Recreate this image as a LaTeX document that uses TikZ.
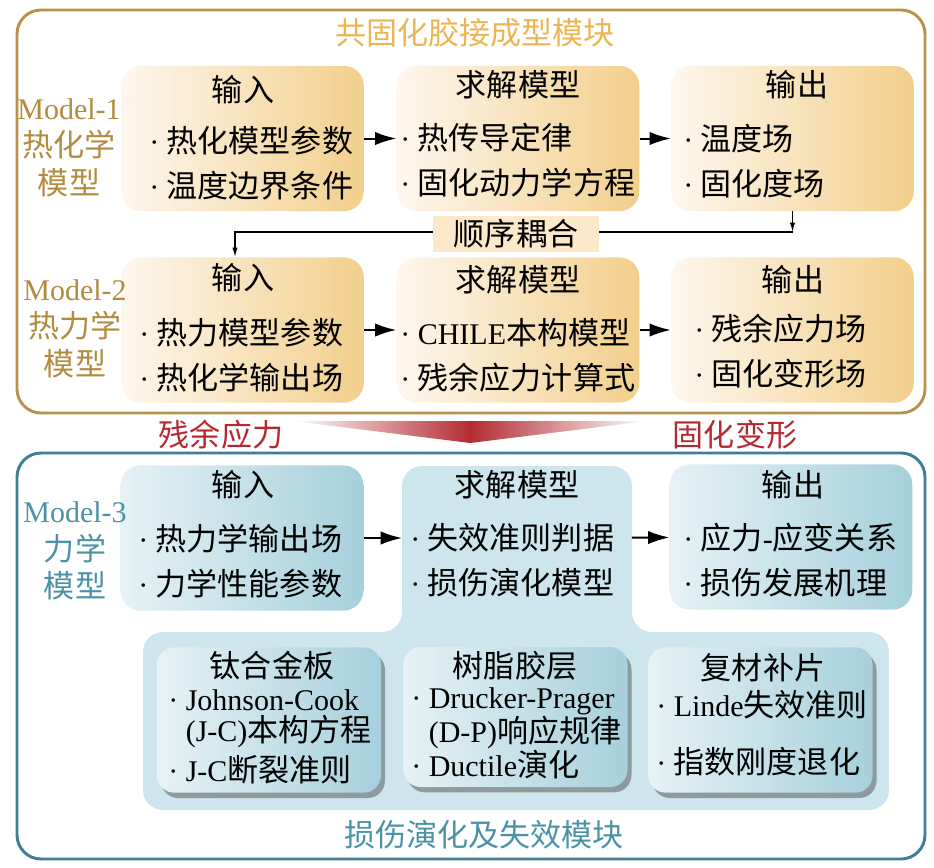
\documentclass[tikz,border=0pt]{standalone}
\usepackage{fontspec}
\setmainfont{Liberation Serif}
\newfontfamily\cjk[Scale=1.035]{Noto Sans CJK SC}
\usepackage{xcolor}
\usepackage{tikz}
\usetikzlibrary{arrows.meta}
\usetikzlibrary{shadows}

\definecolor{goldline}{HTML}{B8924C}
\definecolor{goldtitle}{HTML}{ECB551}
\definecolor{goldtext}{HTML}{B38B3E}
\definecolor{goldlight}{HTML}{FEF7EE}
\definecolor{golddark}{HTML}{F2CF8C}
\definecolor{couplefill}{HTML}{FBE9CA}
\definecolor{blueline}{HTML}{3E7F92}
\definecolor{bluetext}{HTML}{4C92A7}
\definecolor{bluelight}{HTML}{E6F2F6}
\definecolor{bluedark}{HTML}{A6D0DC}
\definecolor{bluepanel}{HTML}{CDE5EC}
\definecolor{redtext}{HTML}{B5282F}
\definecolor{redtri}{HTML}{B42C33}

\newcommand{\zh}[1]{{\cjk #1}}

\begin{document}
\begin{tikzpicture}[x=0.75pt,y=-0.75pt,
  txt/.style={font=\fontsize{22.5}{33.75}\selectfont, inner sep=0pt},
  itemtxt/.style={txt, align=left, anchor=west},
  modeltxt/.style={font=\fontsize{22.5}{28}\selectfont, align=center, inner sep=0pt},
  goldbox/.style={rounded corners=15pt, minimum width=182pt, minimum height=109pt, inner sep=0pt,
    left color=goldlight, right color=golddark},
  bluebox/.style={rounded corners=15pt, minimum width=182pt, minimum height=109pt, inner sep=0pt,
    left color=bluelight, right color=bluedark},
  subbox/.style={rounded corners=13pt, minimum width=168pt, minimum height=109pt, inner sep=0pt,
    left color=bluelight, right color=bluedark,
    drop shadow={shadow xshift=3pt, shadow yshift=-4pt, opacity=0.45, fill=black!75}},
  flow/.style={line width=1.5pt, -{Latex[length=16pt,width=10pt]}},
  couple/.style={line width=1.1pt, -{Latex[length=7pt,width=4pt]}}]
\useasboundingbox (0,0) rectangle (934,867);

% top module
\draw[goldline, line width=2.2pt, rounded corners=18pt] (17,10) rectangle (925,413);
\node[txt, text=goldtitle] (title1) at (475,33) {\zh{共固化胶接成型模块}};

\node[goldbox] (in1) at (242.5,138.5) {};
\node[goldbox] (so1) at (518,138.5) {};
\node[goldbox] (out1) at (792.5,138.5) {};
\node[txt] (in1h) at (243,90) {\zh{输入}};
\node[txt] (so1h) at (518,85) {\zh{求解模型}};
\node[txt] (out1h) at (797,85) {\zh{输出}};
\node[itemtxt] (in1t) at (149,163.5) {· \zh{热化模型参数}\\· \zh{温度边界条件}};
\node[itemtxt] (so1t) at (400,160) {· \zh{热传导定律}\\· \zh{固化动力学方程}};
\node[itemtxt] (out1t) at (683,161.5) {· \zh{温度场}\\· \zh{固化度场}};

\node[goldbox] (in2) at (242.5,330) {};
\node[goldbox] (so2) at (518,330) {};
\node[goldbox] (out2) at (792.5,330) {};
\node[txt] (in2h) at (243,278) {\zh{输入}};
\node[txt] (so2h) at (518,280) {\zh{求解模型}};
\node[txt] (out2h) at (793,280) {\zh{输出}};
\node[itemtxt] (in2t) at (139,355) {· \zh{热力模型参数}\\· \zh{热化学输出场}};
\node[itemtxt] (so2t) at (400,355) {· CHILE\zh{本构模型}\\· \zh{残余应力计算式}};
\node[itemtxt] (out2t) at (694,351.5) {· \zh{残余应力场}\\· \zh{固化变形场}};

\node[modeltxt, text=goldtext] (m1) at (69,147.5) {Model-1\\\zh{热化学}\\\zh{模型}};
\node[modeltxt, text=goldtext] (m2) at (75,328.5) {Model-2\\\zh{热力学}\\\zh{模型}};

\draw[flow] (in1) -- (so1);
\draw[flow] (so1) -- (out1);
\draw[flow] (in2) -- (so2);
\draw[flow] (so2) -- (out2);

% sequential coupling
\coordinate (turn) at (235,232);
\draw[couple] (out1.south) -- (out1.south |- turn);
\draw[couple] (out1.south |- turn) -- (turn) -- (turn |- in2.north);
\node[txt, fill=couplefill, minimum width=124pt, minimum height=27pt] (cpl) at (516,234) {\zh{顺序耦合}};

% transfer between modules
\shade[left color=white, right color=white, middle color=redtri] (293,421) -- (648,421) -- (470,443) -- cycle;
\node[txt, text=redtext] (rs) at (221,435) {\zh{残余应力}};
\node[txt, text=redtext] (cd) at (735,435) {\zh{固化变形}};

% bottom module
\draw[blueline, line width=2.2pt, rounded corners=18pt] (17,453) rectangle (925,859);
\fill[bluepanel, rounded corners=15pt] (143,810) -- (143,632) -- (402,632) -- (402,466)
  -- (632,466) -- (632,632) -- (889,632) -- (889,810) -- cycle;
\node[txt, text=bluetext] (title2) at (484,835) {\zh{损伤演化及失效模块}};

\node[bluebox] (in3) at (242,538) {};
\node[minimum width=172pt, minimum height=109pt, inner sep=0pt] (so3) at (517,538) {};
\node[bluebox] (out3) at (791,537) {};
\node[txt] (in3h) at (243,485) {\zh{输入}};
\node[txt] (so3h) at (517,485) {\zh{求解模型}};
\node[txt] (out3h) at (793,485) {\zh{输出}};
\node[itemtxt] (in3t) at (138,561) {· \zh{热力学输出场}\\· \zh{力学性能参数}};
\node[itemtxt] (so3t) at (410,560) {· \zh{失效准则判据}\\· \zh{损伤演化模型}};
\node[itemtxt] (out3t) at (683,560) {· \zh{应力}-\zh{应变关系}\\· \zh{损伤发展机理}};
\node[modeltxt, text=bluetext] (m3) at (75,551) {Model-3\\\zh{力学}\\\zh{模型}};

\draw[flow] (in3) -- (so3);
\draw[flow] (so3) -- (out3);

\node[subbox] (ti) at (269,720) {};
\node[subbox, minimum height=105pt] (resin) at (515.5,717) {};
\node[subbox] (patch) at (760.5,720) {};
\node[txt] (tih) at (272,666) {\zh{钛合金板}};
\node[txt] (resinh) at (515,666) {\zh{树脂胶层}};
\node[txt] (patchh) at (763,668) {\zh{复材补片}};
\node[itemtxt, font=\fontsize{22.5}{23}\selectfont] (tit) at (168,737)
  {· Johnson-Cook\\\phantom{·\ }(J-C)\zh{本构方程}\\[5pt]· J-C\zh{断裂准则}};
\node[itemtxt, font=\fontsize{22.5}{23.5}\selectfont] (resint) at (411,733)
  {· Drucker-Prager\\\phantom{·\ }(D-P)\zh{响应规律}\\· Ductile\zh{演化}};
\node[itemtxt, font=\fontsize{22.5}{42.75}\selectfont] (patcht) at (656,733)
  {· Linde\zh{失效准则}\\· \zh{指数刚度退化}};
\end{tikzpicture}
\end{document}
